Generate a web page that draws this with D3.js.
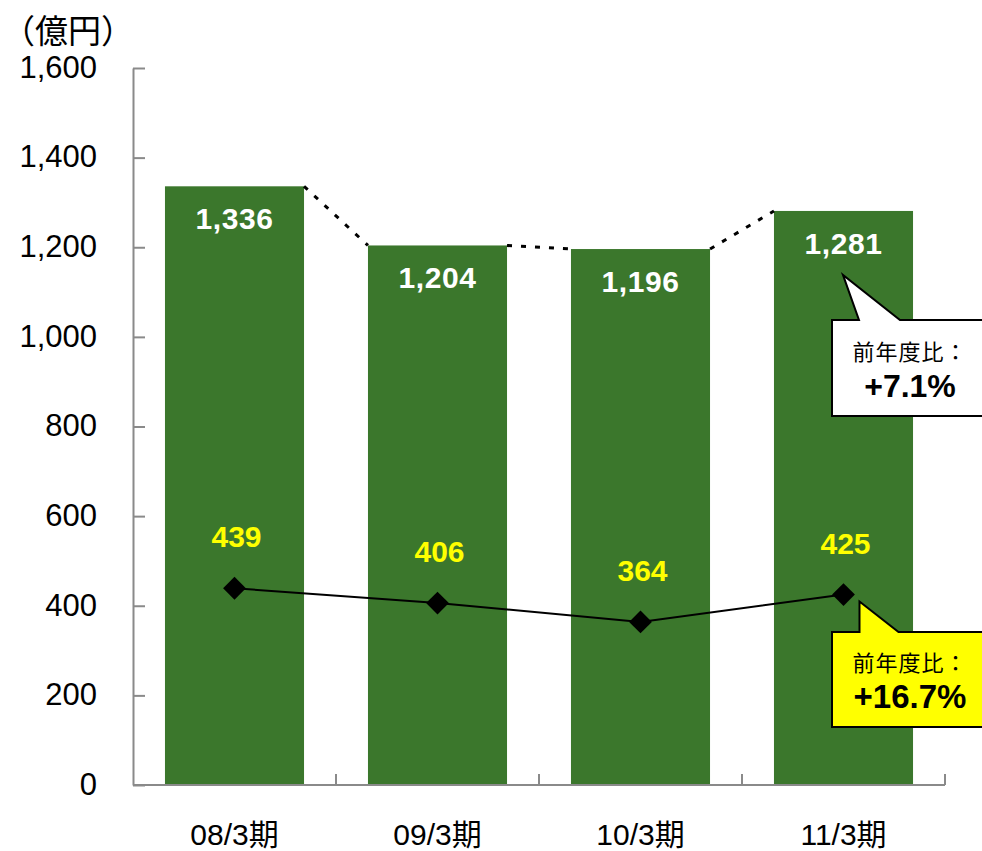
<!DOCTYPE html>
<html>
<head>
<meta charset="utf-8">
<script src="https://cdn.jsdelivr.net/npm/d3@7"></script>
<style>
  html, body { margin: 0; padding: 0; background: #fff; }
  svg { display: block; }
  text { font-family: "Liberation Sans", Arial, "Noto Sans CJK JP", sans-serif; }
  .cjk { font-family: "Liberation Sans", "Noto Sans CJK JP", sans-serif; }
</style>
</head>
<body>
<svg id="chart" width="982" height="851"></svg>
<script>
// Fiscal periods and values (億円)
const categories = ["08/3期", "09/3期", "10/3期", "11/3期"];
const barValues  = [1336, 1204, 1196, 1281];
const lineValues = [439, 406, 364, 425];
const yTicks     = [0, 200, 400, 600, 800, 1000, 1200, 1400, 1600];
const unitLabel  = "（億円）";
const calloutHead = "前年度比：";
const barGrowth  = "+7.1%";
const lineGrowth = "+16.7%";

const W = 982, H = 851;
const plot = { left: 133, right: 945, top: 68, bottom: 785 };
const GREEN = "#3b772c", AXIS = "#8a8a8a";

const svg = d3.select("#chart");

const x = d3.scaleBand()
  .domain(categories)
  .range([plot.left, plot.right])
  .paddingInner(0.315)
  .paddingOuter(0.1575);

const y = d3.scaleLinear().domain([0, 1600]).range([plot.bottom, plot.top]);

// Y axis with inward ticks
const yAxis = svg.append("g")
  .attr("transform", `translate(${plot.left},0)`)
  .call(d3.axisLeft(y).tickValues(yTicks).tickSizeInner(-12).tickSizeOuter(0)
    .tickPadding(36).tickFormat(d3.format(",")));
yAxis.select(".domain").attr("stroke", AXIS).attr("stroke-width", 2);
yAxis.selectAll(".tick line").attr("stroke", AXIS).attr("stroke-width", 2);
yAxis.selectAll(".tick text")
  .attr("fill", "#000").attr("font-size", 31).attr("dy", "0.3em")
  .style("font-family", "'Liberation Sans', Arial, sans-serif");

// Unit label
svg.append("text").attr("class", "cjk")
  .attr("x", 2).attr("y", 43)
  .attr("font-size", 33).attr("fill", "#000")
  .text(unitLabel);

// Bars
svg.append("g").selectAll("rect")
  .data(barValues)
  .join("rect")
  .attr("x", (d, i) => x(categories[i]))
  .attr("y", d => y(d))
  .attr("width", x.bandwidth())
  .attr("height", d => y(0) - y(d))
  .attr("fill", GREEN);

// Dotted connectors between adjacent bar tops
const conn = d3.pairs(barValues.map((v, i) => ({ v, c: categories[i] })));
svg.append("g").selectAll("line")
  .data(conn)
  .join("line")
  .attr("x1", d => x(d[0].c) + x.bandwidth())
  .attr("y1", d => y(d[0].v))
  .attr("x2", d => x(d[1].c))
  .attr("y2", d => y(d[1].v))
  .attr("stroke", "#000")
  .attr("stroke-width", 3)
  .attr("stroke-dasharray", "5,9");

// X axis: baseline with boundary ticks pointing up
const xg = svg.append("g");
xg.append("line")
  .attr("x1", plot.left).attr("x2", plot.right)
  .attr("y1", plot.bottom).attr("y2", plot.bottom)
  .attr("stroke", AXIS).attr("stroke-width", 2);
const tickXs = categories.map((c, i) => plot.left + x.step() * (i + 1));
xg.selectAll(".bt")
  .data(tickXs)
  .join("line")
  .attr("x1", d => d).attr("x2", d => d)
  .attr("y1", plot.bottom).attr("y2", plot.bottom - 11)
  .attr("stroke", AXIS).attr("stroke-width", 2);

const xAxis = svg.append("g")
  .attr("transform", `translate(0,${plot.bottom})`)
  .call(d3.axisBottom(x).tickSize(0).tickPadding(0));
xAxis.select(".domain").remove();
xAxis.selectAll(".tick text")
  .attr("y", 60).attr("dy", 0)
  .attr("fill", "#000").attr("font-size", 30)
  .attr("class", "cjk");

// Bar value labels
svg.append("g").selectAll("text")
  .data(barValues)
  .join("text")
  .attr("x", (d, i) => x(categories[i]) + x.bandwidth() / 2)
  .attr("y", d => y(d) + 43)
  .attr("text-anchor", "middle")
  .attr("font-size", 30).attr("font-weight", "bold")
  .attr("fill", "#fff")
  .attr("letter-spacing", 0.6)
  .text(d => d3.format(",")(d));

// Line series
const cx = (i) => x(categories[i]) + x.bandwidth() / 2;
svg.append("path")
  .datum(lineValues)
  .attr("fill", "none")
  .attr("stroke", "#000")
  .attr("stroke-width", 2)
  .attr("d", d3.line().x((d, i) => cx(i)).y(d => y(d)));

svg.append("g").selectAll("path")
  .data(lineValues)
  .join("path")
  .attr("d", d3.symbol(d3.symbolSquare, 260))
  .attr("transform", (d, i) => `translate(${cx(i)},${y(d)}) rotate(45)`)
  .attr("fill", "#000");

svg.append("g").selectAll("text")
  .data(lineValues)
  .join("text")
  .attr("x", (d, i) => cx(i) + 2)
  .attr("y", d => y(d) - 41)
  .attr("text-anchor", "middle")
  .attr("font-size", 30).attr("font-weight", "bold")
  .attr("fill", "#ffff00")
  .text(d => d);

// Callouts next to the last period
function callout(tipX, tipY, boxTop, boxBottom, baseL, baseR, fill, head, value, headY, valueY, valueSize) {
  const boxLeft = 832, boxRight = 992;
  const pts = [
    [boxLeft, boxTop], [baseL, boxTop], [tipX, tipY], [baseR, boxTop],
    [boxRight, boxTop], [boxRight, boxBottom], [boxLeft, boxBottom]
  ];
  svg.append("path")
    .attr("d", d3.line()(pts) + "Z")
    .attr("fill", fill)
    .attr("stroke", "#000")
    .attr("stroke-width", 2)
    .attr("stroke-linejoin", "miter");
  svg.append("text").attr("class", "cjk")
    .attr("x", 910).attr("y", headY)
    .attr("text-anchor", "middle")
    .attr("font-size", 22).attr("fill", "#000")
    .attr("letter-spacing", 1)
    .text(head);
  svg.append("text")
    .attr("x", 910).attr("y", valueY)
    .attr("text-anchor", "middle")
    .attr("font-size", valueSize).attr("font-weight", "bold").attr("fill", "#000")
    .text(value);
}

const last = categories.length - 1;
const bx = x(categories[last]);
callout(bx + 69, y(barValues[last]) + 64, 320, 416, bx + 85, bx + 126, "#fff",
  calloutHead, barGrowth, 360, 397, 32);
callout(cx(last) + 16, y(lineValues[last]) + 7, 632, 727, cx(last) + 16, cx(last) + 55, "#ffff00",
  calloutHead, lineGrowth, 671, 708, 33);
</script>
</body>
</html>
